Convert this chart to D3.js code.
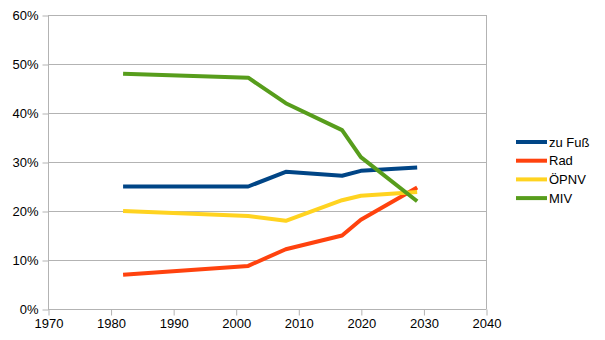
<!DOCTYPE html>
<html>
<head>
<meta charset="utf-8">
<script src="https://cdn.jsdelivr.net/npm/d3@7"></script>
<style>
  body { margin: 0; background: #fff; }
  svg { display: block; font-family: "Liberation Sans", Arial, sans-serif; }
</style>
</head>
<body>
<svg id="chart" width="605" height="340"></svg>
<script>
// Modal split by year (share of trips, %)
const years   = [1982, 2002, 2008, 2017, 2020, 2029];
const zuFuss  = [25, 25, 28, 27.2, 28.2, 28.9];
const rad     = [7, 8.8, 12.2, 15, 18.2, 24.8];
const oepnv   = [20, 19, 18, 22.2, 23.1, 23.9];
const miv     = [48, 47.2, 42, 36.5, 31, 22];

const seriesNames  = ["zu Fuß", "Rad", "ÖPNV", "MIV"];
const seriesValues = [zuFuss, rad, oepnv, miv];
const seriesColors = ["#004586", "#ff420e", "#ffd320", "#579d1c"];

const xTicks = [1970, 1980, 1990, 2000, 2010, 2020, 2030, 2040];
const yTicks = [0, 10, 20, 30, 40, 50, 60];

const svg = d3.select("#chart");
const plot = { left: 48, right: 486, top: 15, bottom: 309 };

const x = d3.scaleLinear().domain([1970, 2040]).range([plot.left, plot.right]);
const y = d3.scaleLinear().domain([0, 60]).range([plot.bottom, plot.top]);

// horizontal gridlines
svg.append("g")
  .selectAll("line")
  .data(yTicks)
  .join("line")
  .attr("x1", plot.left).attr("x2", plot.right)
  .attr("y1", d => y(d) + 0.5).attr("y2", d => y(d) + 0.5)
  .attr("stroke", "#b3b3b3").attr("stroke-width", 1);

// right border of the plot area
svg.append("line")
  .attr("x1", plot.right + 0.5).attr("x2", plot.right + 0.5)
  .attr("y1", plot.top).attr("y2", plot.bottom)
  .attr("stroke", "#b3b3b3");

// y axis
const yAxis = svg.append("g")
  .attr("transform", `translate(${plot.left + 0.5},0.5)`)
  .call(d3.axisLeft(y).tickValues(yTicks).tickFormat(d => d + "%").tickSize(6).tickPadding(4));
yAxis.select(".domain").attr("stroke", "#b3b3b3").attr("d", `M0,${plot.top}V${plot.bottom}`);
yAxis.selectAll(".tick line").attr("stroke", "#b3b3b3");
yAxis.selectAll(".tick text").attr("font-size", 13).attr("fill", "#000")
  .attr("font-family", "Liberation Sans, Arial, sans-serif");

// x axis
const xAxis = svg.append("g")
  .attr("transform", `translate(0.5,${plot.bottom + 0.5})`)
  .call(d3.axisBottom(x).tickValues(xTicks).tickFormat(d3.format("d")).tickSize(6).tickPadding(3));
xAxis.select(".domain").attr("stroke", "#b3b3b3").attr("d", `M${plot.left},0H${plot.right}`);
xAxis.selectAll(".tick line").attr("stroke", "#b3b3b3");
xAxis.selectAll(".tick text").attr("font-size", 13).attr("fill", "#000")
  .attr("font-family", "Liberation Sans, Arial, sans-serif");

// series lines
const line = d3.line()
  .x((d, i) => x(years[i]))
  .y(d => y(d));

svg.append("g")
  .selectAll("path")
  .data(seriesValues)
  .join("path")
  .attr("d", d => line(d))
  .attr("fill", "none")
  .attr("stroke", (d, i) => seriesColors[i])
  .attr("stroke-width", 4)
  .attr("stroke-linejoin", "round");

// legend
const legend = svg.append("g").attr("transform", "translate(516,142)");
const item = legend.selectAll("g")
  .data(seriesNames)
  .join("g")
  .attr("transform", (d, i) => `translate(0,${i * 18.7})`);
item.append("line")
  .attr("x1", 0).attr("x2", 31).attr("y1", 0).attr("y2", 0)
  .attr("stroke", (d, i) => seriesColors[i]).attr("stroke-width", 4);
item.append("text")
  .attr("x", 33).attr("y", 0).attr("dy", "0.36em")
  .attr("font-size", 13).attr("fill", "#000")
  .text(d => d);
</script>
</body>
</html>
